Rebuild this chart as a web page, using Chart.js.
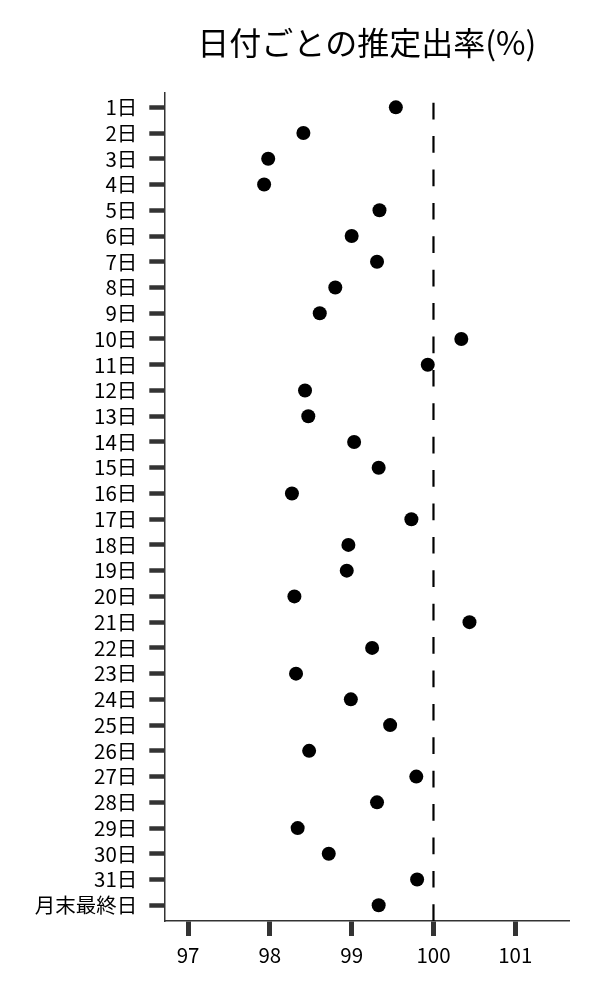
<!DOCTYPE html>
<html>
<head>
<meta charset="utf-8">
<script src="https://cdn.jsdelivr.net/npm/chart.js@4"></script>
<style>
html,body{margin:0;padding:0;background:#fff;}
canvas{display:block;}
</style>
</head>
<body>
<canvas id="c" width="600" height="1000"></canvas>
<script>
const titleText = '日付ごとの推定出率(%)';
const dayLabels = ['1日','2日','3日','4日','5日','6日','7日','8日','9日','10日','11日','12日','13日','14日','15日','16日','17日','18日','19日','20日','21日','22日','23日','24日','25日','26日','27日','28日','29日','30日','31日','月末最終日'];
const rates = [99.54,98.41,97.98,97.93,99.34,99.00,99.31,98.80,98.61,100.34,99.93,98.43,98.47,99.03,99.33,98.27,99.73,98.96,98.94,98.30,100.44,99.25,98.32,98.99,99.47,98.48,99.79,99.31,98.34,98.72,99.80,99.33];
const xTicks = [97,98,99,100,101];
const refValue = 100;

const FONT = "'Noto Sans CJK JP', 'Noto Sans', sans-serif";

const refLine = {
  id: 'refLine',
  beforeDatasetsDraw(chart) {
    const {ctx, chartArea, scales} = chart;
    const x = scales.x.getPixelForValue(refValue);
    ctx.save();
    ctx.beginPath();
    ctx.rect(chartArea.left, chartArea.top, chartArea.right - chartArea.left, chartArea.bottom - chartArea.top);
    ctx.clip();
    ctx.strokeStyle = '#000';
    ctx.lineWidth = 2.2;
    ctx.setLineDash([16.7, 16.7]);
    ctx.beginPath();
    ctx.moveTo(x, chartArea.bottom);
    ctx.lineTo(x, chartArea.top);
    ctx.stroke();
    ctx.restore();
  }
};

new Chart(document.getElementById('c'), {
  type: 'scatter',
  data: {
    datasets: [{
      data: rates.map((v, i) => ({x: v, y: i})),
      backgroundColor: '#000',
      borderColor: '#000',
      borderWidth: 0,
      pointRadius: 7,
      pointHoverRadius: 7
    }]
  },
  options: {
    responsive: false,
    animation: false,
    devicePixelRatio: 1,
    layout: {padding: {left: 0, right: 30.7, top: 0, bottom: 0}},
    plugins: {
      legend: {display: false},
      tooltip: {enabled: false},
      title: {
        display: true,
        text: titleText,
        fullSize: false,
        color: '#000',
        font: {family: FONT, size: 32, weight: 'normal'},
        padding: {top: 24, bottom: 30}
      }
    },
    scales: {
      x: {
        type: 'linear',
        position: 'bottom',
        min: 96.71,
        max: 101.66,
        afterBuildTicks: (axis) => { axis.ticks = xTicks.map(v => ({value: v})); },
        afterFit: (axis) => { axis.height = 79; },
        border: {display: true, color: '#333', width: 1.5},
        grid: {display: true, drawOnChartArea: false, drawTicks: true, tickLength: 15, tickWidth: 5, tickColor: '#333'},
        ticks: {color: '#000', font: {family: FONT, size: 20.5}, padding: 7, callback: (v) => String(v)}
      },
      y: {
        type: 'linear',
        position: 'left',
        reverse: true,
        min: -0.58,
        max: 31.61,
        afterBuildTicks: (axis) => { axis.ticks = dayLabels.map((_, i) => ({value: i})); },
        afterFit: (axis) => { axis.width = 164.3; },
        border: {display: true, color: '#333', width: 1.5},
        grid: {display: true, drawOnChartArea: false, drawTicks: true, tickLength: 15, tickWidth: 4.5, tickColor: '#333'},
        ticks: {color: '#000', font: {family: FONT, size: 20.5}, padding: 12, autoSkip: false, callback: (v) => dayLabels[v]}
      }
    }
  },
  plugins: [refLine]
});
</script>
</body>
</html>
